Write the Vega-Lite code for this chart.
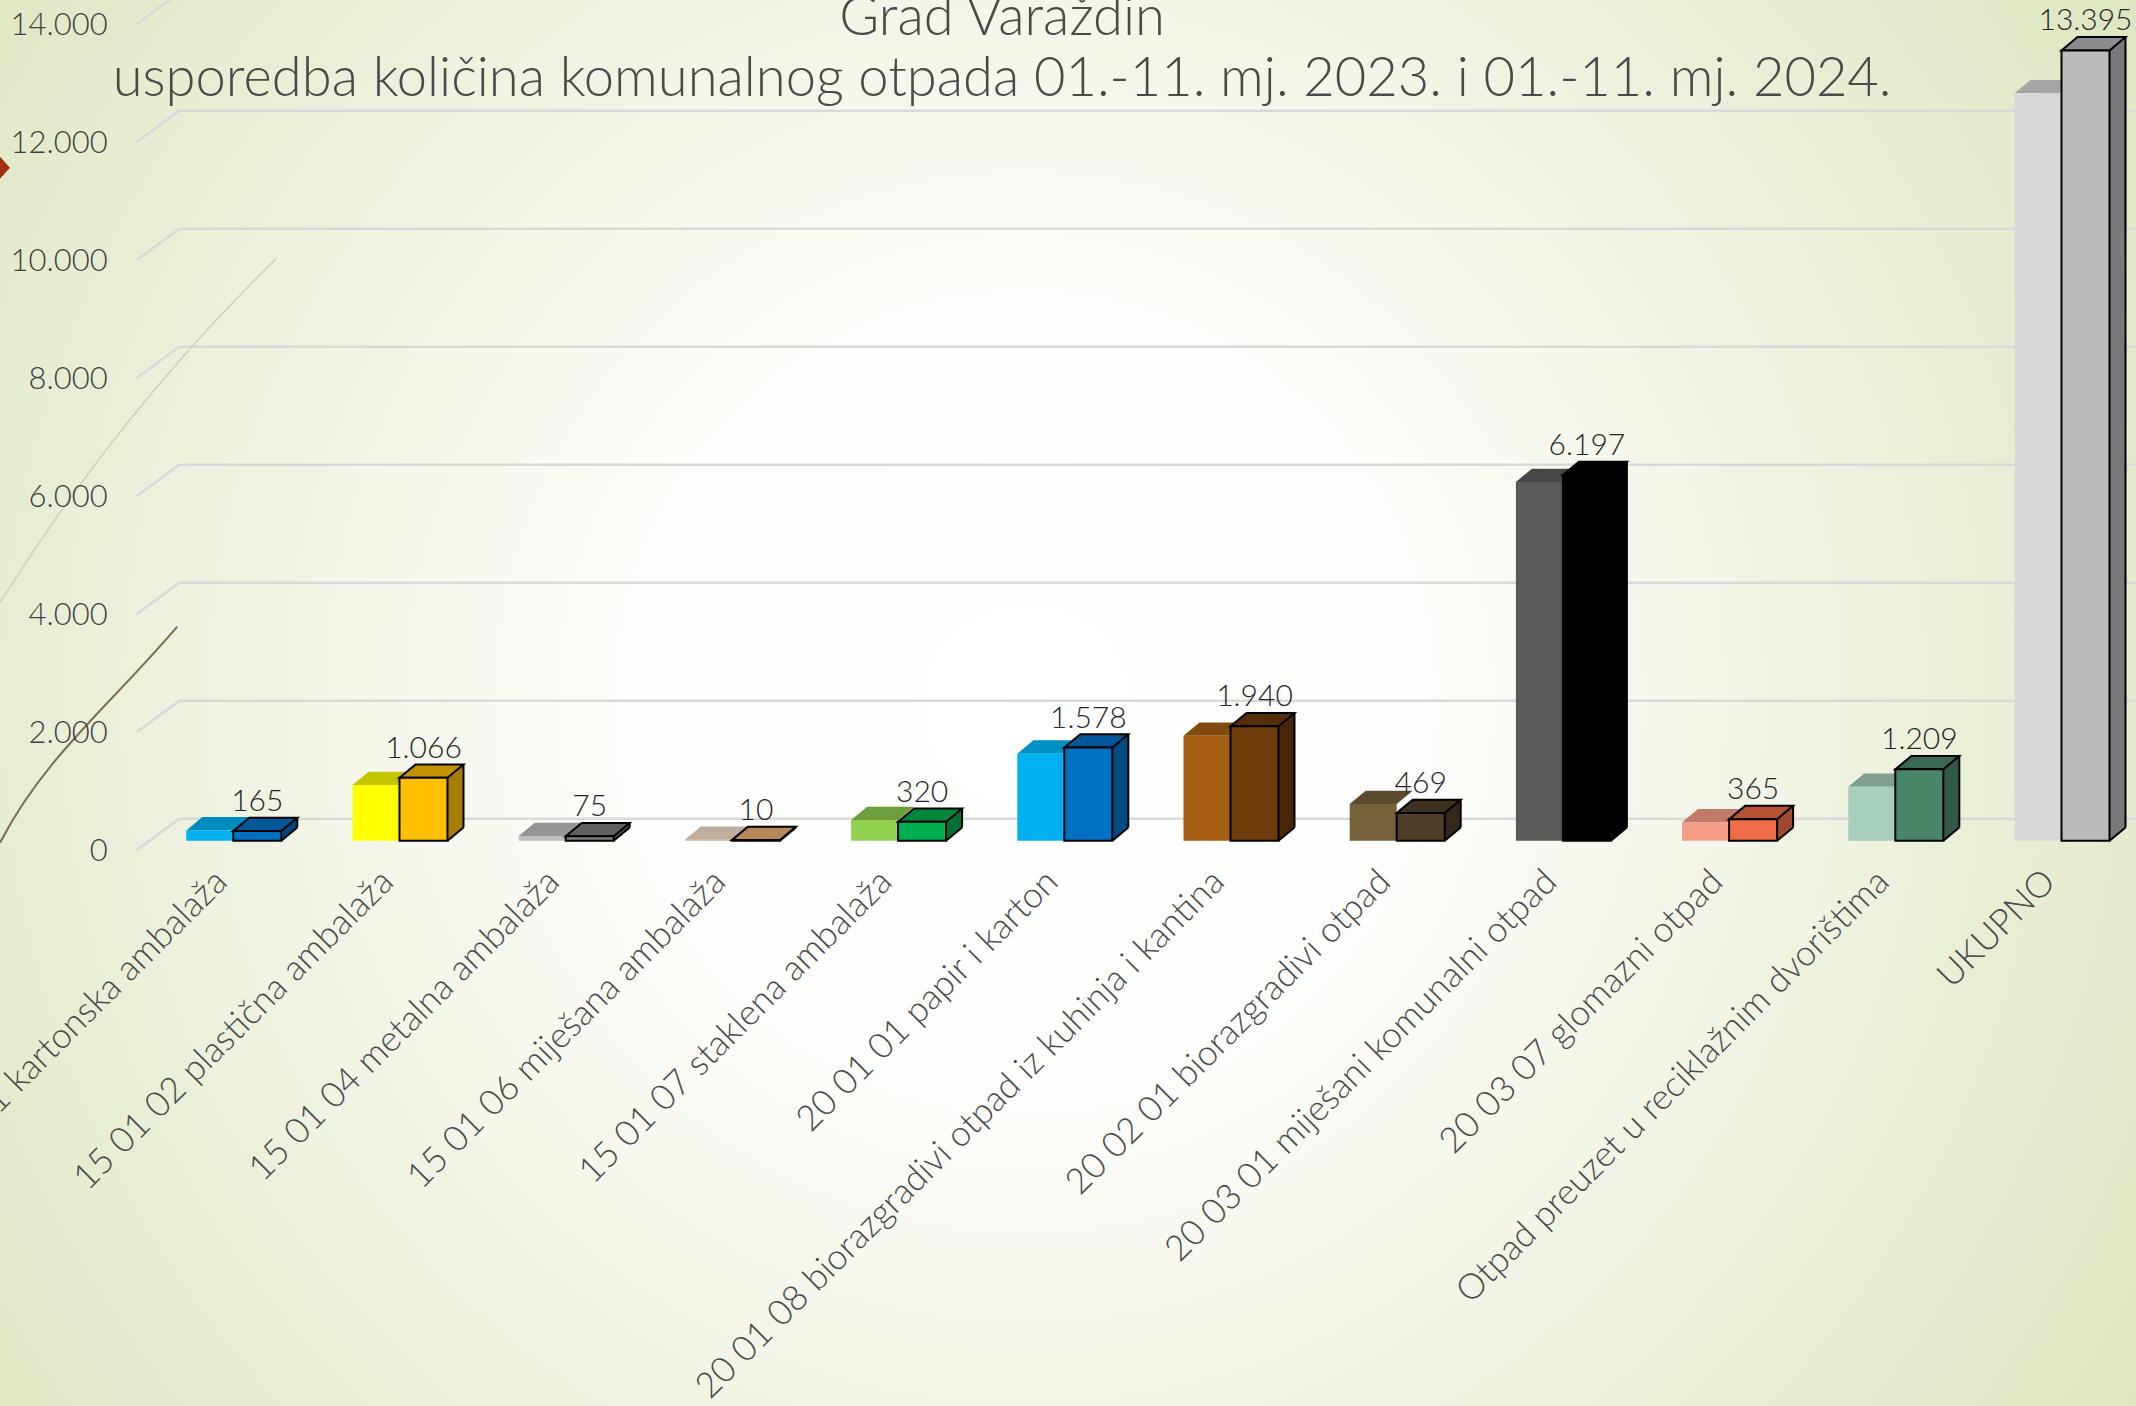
{"$schema":"https://vega.github.io/schema/vega-lite/v6.json","width":1985.8,"height":826,"autosize":{"type":"none"},"padding":{"left":150.2,"top":14.7,"right":0,"bottom":565.3},
"config":{"view":{"stroke":null},"locale":{"number":{"decimal":",","thousands":".","grouping":[3],"currency":["","€"]}}},
"title":{"text":["Grad Varaždin","usporedba količina komunalnog otpada 01.-11. mj. 2023. i 01.-11. mj. 2024."],"font":"Lato","fontSize":54.3,"fontWeight":300,"color":"#4a4a4a","anchor":"middle","frame":"group","baseline":"top","lineHeight":61,"dx":-141,"dy":120,"offset":0,"zindex":1},
"datasets":{"bars":[
{"cat":"15 01 01 kartonska ambalaža","year":2023,"value":175},{"cat":"15 01 01 kartonska ambalaža","year":2024,"value":165},
{"cat":"15 01 02 plastična ambalaža","year":2023,"value":944},{"cat":"15 01 02 plastična ambalaža","year":2024,"value":1066},
{"cat":"15 01 04 metalna ambalaža","year":2023,"value":80},{"cat":"15 01 04 metalna ambalaža","year":2024,"value":75},
{"cat":"15 01 06 miješana ambalaža","year":2023,"value":15},{"cat":"15 01 06 miješana ambalaža","year":2024,"value":10},
{"cat":"15 01 07 staklena ambalaža","year":2023,"value":350},{"cat":"15 01 07 staklena ambalaža","year":2024,"value":320},
{"cat":"20 01 01 papir i karton","year":2023,"value":1475},{"cat":"20 01 01 papir i karton","year":2024,"value":1578},
{"cat":"20 01 08 biorazgradivi otpad iz kuhinja i kantina","year":2023,"value":1780},{"cat":"20 01 08 biorazgradivi otpad iz kuhinja i kantina","year":2024,"value":1940},
{"cat":"20 02 01 biorazgradivi otpad","year":2023,"value":622},{"cat":"20 02 01 biorazgradivi otpad","year":2024,"value":469},
{"cat":"20 03 01 miješani komunalni otpad","year":2023,"value":6080},{"cat":"20 03 01 miješani komunalni otpad","year":2024,"value":6197},
{"cat":"20 03 07 glomazni otpad","year":2023,"value":312},{"cat":"20 03 07 glomazni otpad","year":2024,"value":365},
{"cat":"Otpad preuzet u reciklažnim dvorištima","year":2023,"value":915},{"cat":"Otpad preuzet u reciklažnim dvorištima","year":2024,"value":1209},
{"cat":"UKUPNO","year":2023,"value":12668},{"cat":"UKUPNO","year":2024,"value":13395}],
"ticks":[{"tick":0},{"tick":2000},{"tick":4000},{"tick":6000},{"tick":8000},{"tick":10000},{"tick":12000},{"tick":14000}]},
"encoding":{
"x":{"field":"cat","type":"nominal","sort":null,"scale":{"type":"band","domain":["15 01 01 kartonska ambalaža","15 01 02 plastična ambalaža","15 01 04 metalna ambalaža","15 01 06 miješana ambalaža","15 01 07 staklena ambalaža","20 01 01 papir i karton","20 01 08 biorazgradivi otpad iz kuhinja i kantina","20 02 01 biorazgradivi otpad","20 03 01 miješani komunalni otpad","20 03 07 glomazni otpad","Otpad preuzet u reciklažnim dvorištima","UKUPNO"],"paddingInner":0,"paddingOuter":0,"range":[0,1994.4]},"axis":{"zindex":1,"title":null,"domain":false,"ticks":false,"labelAngle":-45,"labelAlign":"right","labelBaseline":"middle","labelPadding":35,"labelOffset":-12,"labelFont":"Lato","labelFontSize":35.4,"labelFontWeight":300,"labelColor":"#4a4a4a","labelLimit":0,"labelOverlap":false,"labelBound":false,"labelFlush":false}}
},
"layer":[
{"data":{"name":"ticks"},"transform":[{"filter":"datum.tick==0"}],"mark":{"type":"point","shape":"M-150.2 -840.7L1985.8 -840.7L1985.8 565.3L-150.2 565.3Z","size":4,"filled":true,"opacity":1,"fill":{"gradient":"radial","x1":0.48,"y1":0.5,"r1":0,"x2":0.48,"y2":0.5,"r2":0.62,"stops":[{"offset":0,"color":"#ffffff"},{"offset":0.3,"color":"#fdfdfb"},{"offset":1,"color":"#dde6c0"}]}},"encoding":{"x":{"datum":"15 01 01 kartonska ambalaža","bandPosition":0},"y":{"field":"tick","type":"quantitative"}}},
{"data":{"name":"ticks"},"mark":{"type":"rule","color":"#d9d9d9","strokeWidth":2.5,"xOffset":29,"x2Offset":100,"yOffset":-22,"y2Offset":-22},"encoding":{"x":{"datum":"15 01 01 kartonska ambalaža","bandPosition":0},"x2":{"datum":"UKUPNO"},"y":{"field":"tick","type":"quantitative","scale":{"domain":[0,14000],"range":[826,0],"nice":false},"axis":{"zindex":1,"title":null,"domain":false,"ticks":false,"grid":false,"values":[0,2000,4000,6000,8000,10000,12000,14000],"format":",d","labelFont":"Lato","labelFontSize":31,"labelFontWeight":300,"labelColor":"#404040","labelPadding":43,"labelOffset":10.5,"labelBaseline":"middle","labelOverlap":false,"labelBound":false,"labelFlush":false}}}},
{"data":{"name":"ticks"},"mark":{"type":"point","shape":"M-13.4 9.3L29.2 -22","size":4,"filled":false,"stroke":"#d9d9d9","strokeWidth":2.5,"opacity":1},"encoding":{"x":{"datum":"15 01 01 kartonska ambalaža","bandPosition":0},"y":{"field":"tick","type":"quantitative"}}},
{"data":{"name":"ticks"},"transform":[{"filter":"datum.tick==0"}],"mark":{"type":"point","shape":"M-150.2 2C-105 -85 -40 -135 27 -214","size":4,"filled":false,"stroke":"#7a6f50","strokeWidth":2,"opacity":1},"encoding":{"x":{"datum":"15 01 01 kartonska ambalaža","bandPosition":0},"y":{"field":"tick","type":"quantitative"}}},
{"data":{"name":"ticks"},"transform":[{"filter":"datum.tick==0"}],"mark":{"type":"point","shape":"M-150.2 -238Q-30 -430 126 -582","size":4,"filled":false,"stroke":"#ccd0bc","strokeWidth":1.5,"opacity":1},"encoding":{"x":{"datum":"15 01 01 kartonska ambalaža","bandPosition":0},"y":{"field":"tick","type":"quantitative"}}},
{"data":{"name":"ticks"},"transform":[{"filter":"datum.tick==0"}],"mark":{"type":"point","shape":"M-161.2 -673L-150.2 -684L-140.2 -673L-150.2 -662Z","size":4,"filled":true,"fill":"#a5300f","opacity":1},"encoding":{"x":{"datum":"15 01 01 kartonska ambalaža","bandPosition":0},"y":{"field":"tick","type":"quantitative"}}},
{"data":{"name":"bars"},"transform":[{"filter":"datum.year==2023"}],"mark":{"type":"point","shape":"M-47 0L0 0L16 -13.3L-31 -13.3Z","size":4,"filled":true,"opacity":1},"encoding":{"y":{"field":"value","type":"quantitative"},"color":{"field":"cat","sort":null,"legend":null,"scale":{"range":["#008cc0","#c4c400","#959595","#bfae9e","#6e9e3c","#0090c4","#804a0e","#5a4b2e","#474747","#c27a68","#7fa090","#a6a6a6"]}}}},
{"data":{"name":"bars"},"transform":[{"filter":"datum.year==2023"}],"mark":{"type":"bar","width":47,"xOffset":-23.5},"encoding":{"y":{"field":"value","type":"quantitative","stack":null},"y2":{"datum":0},"color":{"field":"cat","sort":null,"legend":null,"scale":{"range":["#00b0f0","#ffff00","#bfbfbf","#c1afa0","#92d050","#00b0f0","#a65e12","#75623d","#595959","#f49b85","#a6cebb","#d8d8d8"]}}}},
{"data":{"name":"bars"},"transform":[{"filter":"datum.year==2024"}],"mark":{"type":"bar","width":16,"xOffset":56,"yOffset":-13.3,"y2Offset":-13.3},"encoding":{"y":{"field":"value","type":"quantitative","stack":null},"y2":{"datum":0},"color":{"field":"cat","sort":null,"legend":null,"scale":{"range":["#00497f","#a67d00","#505050","#b8895a","#006f33","#004b83","#472607","#33291a","#000000","#a04830","#315a46","#797979"]}}}},
{"data":{"name":"bars"},"transform":[{"filter":"datum.year==2024"}],"mark":{"type":"point","shape":"M48 0L64 -13.3L64 -14.5L48 -14.5Z","size":4,"filled":true,"opacity":1},"encoding":{"y":{"datum":0},"color":{"field":"cat","sort":null,"legend":null,"scale":{"range":["#00497f","#a67d00","#505050","#b8895a","#006f33","#004b83","#472607","#33291a","#000000","#a04830","#315a46","#797979"]}}}},
{"data":{"name":"bars"},"transform":[{"filter":"datum.year==2024"}],"mark":{"type":"point","shape":"M48 0L64 -13.3","size":4,"filled":false,"stroke":"#000000","strokeWidth":2,"opacity":1},"encoding":{"y":{"datum":0}}},
{"data":{"name":"bars"},"transform":[{"filter":"datum.year==2024"}],"mark":{"type":"rule","stroke":"#000000","strokeWidth":2,"xOffset":64,"yOffset":-13.3,"y2Offset":-13.3},"encoding":{"y":{"field":"value","type":"quantitative"},"y2":{"datum":0}}},
{"data":{"name":"bars"},"transform":[{"filter":"datum.year==2024"}],"mark":{"type":"point","shape":"M0 0L48 0L64 -13.3L16 -13.3Z","size":4,"filled":true,"stroke":"#000000","strokeWidth":2,"opacity":1},"encoding":{"y":{"field":"value","type":"quantitative"},"fill":{"field":"cat","sort":null,"legend":null,"scale":{"range":["#00589a","#c29200","#606060","#b8895a","#00863d","#00589a","#562e09","#3d301e","#000000","#b85236","#396852","#8c8c8c"]}}}},
{"data":{"name":"bars"},"transform":[{"filter":"datum.year==2024"}],"mark":{"type":"bar","width":48,"xOffset":24,"stroke":"#000000","strokeWidth":2},"encoding":{"y":{"field":"value","type":"quantitative","stack":null},"y2":{"datum":0},"color":{"field":"cat","sort":null,"legend":null,"scale":{"range":["#0070c0","#ffc000","#7f7f7f","#c8965a","#00b050","#0070c0","#6e3b0b","#4f3f27","#000000","#f06c46","#4a866a","#bbbbbb"]}}}},
{"data":{"name":"bars"},"transform":[{"filter":"datum.year==2024"}],"mark":{"type":"text","font":"Lato","fontSize":30,"fontWeight":300,"color":"#262626","align":"center","baseline":"alphabetic","xOffset":24,"yOffset":-20},"encoding":{"y":{"field":"value","type":"quantitative"},"text":{"field":"value","type":"quantitative","format":",d"}}}
],
"resolve":{"scale":{"color":"independent","fill":"independent"}}}
